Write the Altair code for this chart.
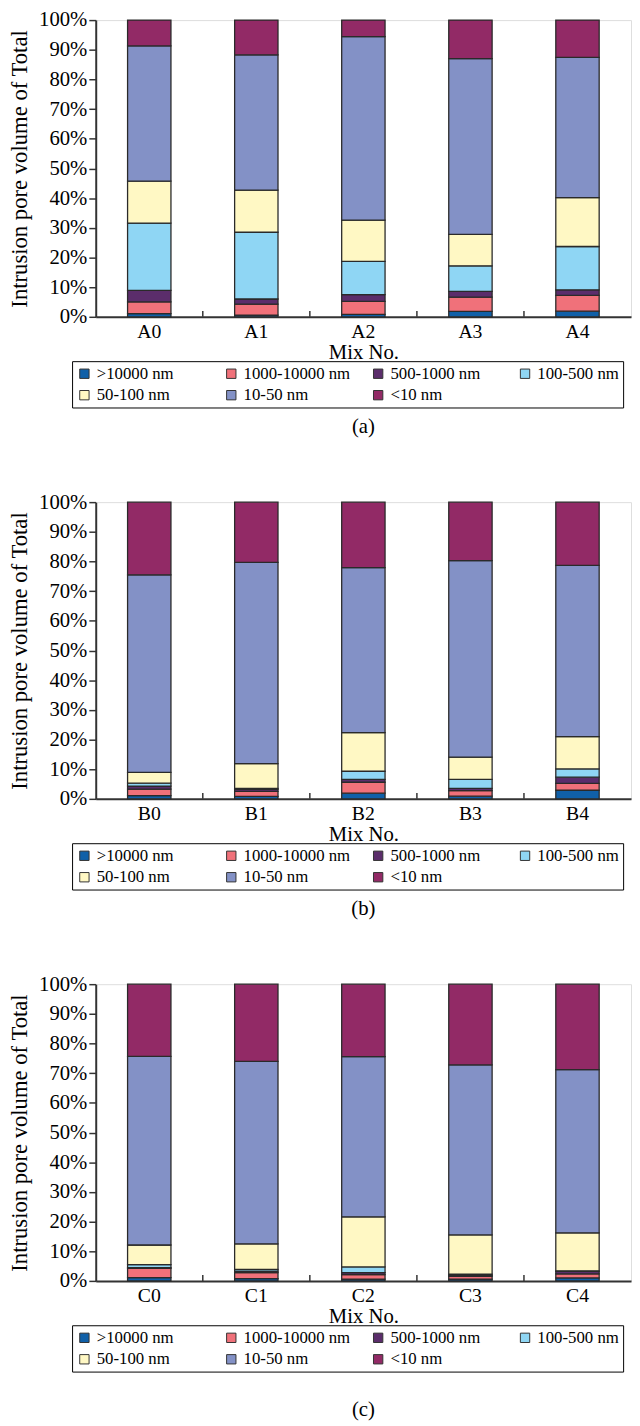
import altair as alt
import pandas as pd

# ---------------- data ----------------
pore_sizes = [">10000 nm", "1000-10000 nm", "500-1000 nm", "100-500 nm",
              "50-100 nm", "10-50 nm", "<10 nm"]
pore_colors = ["#1060a8", "#f0717a", "#5b2d6b", "#8fd6f4",
               "#fff8c4", "#8391c6", "#922a66"]

mix_a = ["A0", "A1", "A2", "A3", "A4"]
mix_b = ["B0", "B1", "B2", "B3", "B4"]
mix_c = ["C0", "C1", "C2", "C3", "C4"]

# percentage of each pore-size class, in the order of pore_sizes
A0 = [1.1, 3.9, 3.9, 22.7, 14.1, 45.6, 8.7]
A1 = [0.6, 3.7, 1.7, 22.5, 14.2, 45.6, 11.7]
A2 = [0.8, 4.4, 2.3, 11.2, 13.9, 61.8, 5.6]
A3 = [1.8, 4.8, 2.0, 8.6, 10.6, 59.2, 13.0]
A4 = [1.9, 5.3, 1.9, 14.6, 16.5, 47.2, 12.6]

B0 = [1.1, 2.2, 1.0, 1.0, 3.6, 66.6, 24.5]
B1 = [0.8, 1.7, 0.7, 0.3, 8.4, 67.8, 20.3]
B2 = [1.9, 3.7, 1.0, 2.7, 13.0, 55.6, 22.1]
B3 = [0.9, 1.9, 0.7, 3.1, 7.5, 66.2, 19.7]
B4 = [2.9, 2.3, 2.1, 2.8, 10.9, 57.7, 21.3]

C0 = [1.1, 3.1, 0.3, 1.0, 6.6, 63.6, 24.3]
C1 = [0.8, 2.0, 0.5, 0.6, 8.6, 61.5, 26.0]
C2 = [0.6, 1.5, 0.7, 1.9, 16.9, 54.0, 24.4]
C3 = [0.6, 0.9, 0.4, 0.4, 13.2, 57.3, 27.2]
C4 = [1.0, 1.4, 0.8, 0.2, 12.8, 55.0, 28.8]

captions = ["(a)", "(b)", "(c)"]

# ---------------- layout constants ----------------
W = 543
H = 301
FONT = "Liberation Serif"


def panel(cats, rows, caption, caption_offset):
    records = []
    for mix, vals in zip(cats, rows):
        for i, (size, v) in enumerate(zip(pore_sizes, vals)):
            records.append({"mix": mix, "pore": size, "idx": i, "value": v})
    df = pd.DataFrame(records)

    x_axis = alt.Axis(labelAngle=0, ticks=False, domainColor="#333333", domainWidth=2,
                      labelFontSize=20, titleFontSize=21, labelPadding=5, titlePadding=0,
                      labelColor="black", titleColor="black", titleFontWeight="normal",
                      labelFont=FONT, titleFont=FONT)
    y_axis = alt.Axis(values=[i / 10 for i in range(11)], format=".0%", grid=False,
                      tickSize=7, tickColor="#333333", tickWidth=1.5,
                      domainColor="#333333", domainWidth=2,
                      labelFontSize=21, titleFontSize=23, labelPadding=2, titlePadding=7,
                      labelColor="black", titleColor="black", titleFontWeight="normal",
                      labelFont=FONT, titleFont=FONT)

    bars = alt.Chart(df).mark_bar(size=44, stroke="#2a2a2a", strokeWidth=1.3).encode(
        x=alt.X("mix:N", sort=cats, title="Mix No.",
                scale=alt.Scale(paddingInner=0, paddingOuter=0), axis=x_axis),
        y=alt.Y("value:Q", stack="normalize", title="Intrusion pore volume of Total",
                scale=alt.Scale(domain=[0, 1], nice=False), axis=y_axis),
        color=alt.Color("pore:N", sort=pore_sizes,
                        scale=alt.Scale(domain=pore_sizes, range=pore_colors),
                        legend=alt.Legend(title=None, orient="none", legendX=-24, legendY=346,
                                          direction="horizontal",
                                          columns=4, gridAlign="all", columnPadding=19,
                                          rowPadding=4, padding=4, strokeColor="black",
                                          fillColor="white", symbolType="square",
                                          symbolSize=90, symbolStrokeColor="#333333",
                                          symbolStrokeWidth=1, symbolOpacity=1,
                                          labelFont=FONT, labelFontSize=17,
                                          labelColor="black", labelOffset=4,
                                          labelLimit=300)),
        order=alt.Order("idx:Q", sort="ascending"),
    )

    ticks = alt.Chart(pd.DataFrame({"mix": cats[1:]})).mark_rule(
        color="#333333", strokeWidth=1.5
    ).encode(
        x=alt.X("mix:N", sort=cats, bandPosition=0),
        y=alt.value(H - 6),
        y2=alt.value(H),
    )

    return alt.layer(bars, ticks).properties(
        width=W, height=H,
        title=alt.TitleParams(caption, orient="bottom", anchor="middle", offset=caption_offset,
                              font=FONT, fontSize=21, fontWeight="normal", color="black"),
    )


chart = alt.vconcat(
    panel(mix_a, [A0, A1, A2, A3, A4], captions[0], 8),
    panel(mix_b, [B0, B1, B2, B3, B4], captions[1], 8),
    panel(mix_c, [C0, C1, C2, C3, C4], captions[2], 28),
    spacing=54,
).resolve_scale(
    x="independent", color="independent"
).resolve_legend(
    color="independent"
).properties(
    padding={"left": 0, "top": -10, "right": 0, "bottom": 0}
).configure_view(
    stroke="#666666", strokeWidth=2
).configure(
    font=FONT
)

chart.save("out.html", embed_options={"renderer": "svg", "actions": False})
